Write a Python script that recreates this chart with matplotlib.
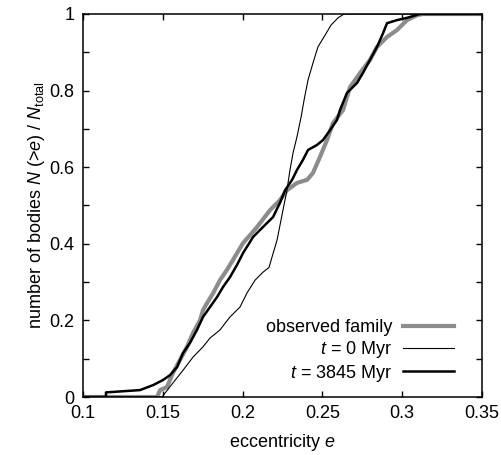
import matplotlib
matplotlib.use("Agg")
import matplotlib.pyplot as plt
from matplotlib.ticker import MultipleLocator

plt.rcParams['font.family'] = ['Liberation Sans', 'DejaVu Sans']
plt.rcParams['mathtext.fontset'] = 'custom'
plt.rcParams['mathtext.rm'] = 'Liberation Sans'
plt.rcParams['mathtext.it'] = 'Liberation Sans:italic'
plt.rcParams['font.size'] = 13

# observed family
obs_e = [0.1, 0.1464, 0.1483, 0.1526, 0.1564, 0.1608, 0.1652, 0.1689, 0.1733, 0.1752,
         0.1777, 0.1814, 0.1858, 0.1902, 0.1940, 0.2003, 0.2091, 0.2172, 0.2234, 0.2278,
         0.2341, 0.2404, 0.2441, 0.2485, 0.2529, 0.2566, 0.2629, 0.2673, 0.2736, 0.2798,
         0.2842, 0.2905, 0.2967, 0.3030, 0.3093, 0.3130, 0.35]
obs_f = [0.0, 0.0, 0.018, 0.026, 0.063, 0.097, 0.131, 0.167, 0.200, 0.227,
         0.245, 0.270, 0.305, 0.332, 0.358, 0.402, 0.444, 0.488, 0.514, 0.540,
         0.559, 0.567, 0.585, 0.627, 0.671, 0.715, 0.749, 0.809, 0.846, 0.880,
         0.914, 0.940, 0.958, 0.984, 0.997, 1.0, 1.0]

# t = 0 Myr
t0_e = [0.1, 0.1495, 0.1564, 0.1627, 0.1689, 0.1752, 0.1796, 0.1858, 0.1921, 0.1984,
        0.2028, 0.2078, 0.2128, 0.2165, 0.2216, 0.2253, 0.2278, 0.2297, 0.2316, 0.2341,
        0.2366, 0.2385, 0.2410, 0.2441, 0.2472, 0.2510, 0.2554, 0.2598, 0.2636, 0.35]
t0_f = [0.0, 0.0, 0.037, 0.070, 0.104, 0.131, 0.154, 0.175, 0.209, 0.235,
        0.272, 0.305, 0.326, 0.338, 0.410, 0.488, 0.540, 0.593, 0.637, 0.680,
        0.730, 0.775, 0.828, 0.872, 0.914, 0.940, 0.971, 0.990, 1.0, 1.0]

# t = 3845 Myr
t1_e = [0.1, 0.1144, 0.1144, 0.1357, 0.1439, 0.1500, 0.1545, 0.1589, 0.1627, 0.1670,
        0.1714, 0.1752, 0.1796, 0.1840, 0.1877, 0.1921, 0.1965, 0.2003, 0.2066, 0.2128,
        0.2191, 0.2234, 0.2266, 0.2310, 0.2341, 0.2378, 0.2410, 0.2466, 0.2504, 0.2548,
        0.2591, 0.2610, 0.2654, 0.2717, 0.2754, 0.2798, 0.2842, 0.2880, 0.2905, 0.2967,
        0.3030, 0.3111, 0.35]
t1_f = [0.0, 0.0, 0.012, 0.018, 0.031, 0.044, 0.057, 0.078, 0.115, 0.141,
        0.175, 0.209, 0.235, 0.261, 0.287, 0.313, 0.345, 0.376, 0.418, 0.444,
        0.470, 0.507, 0.540, 0.567, 0.593, 0.619, 0.645, 0.658, 0.671, 0.697,
        0.723, 0.749, 0.794, 0.820, 0.846, 0.880, 0.914, 0.950, 0.976, 0.984,
        0.990, 1.0, 1.0]

x_ticks = [0.1, 0.15, 0.2, 0.25, 0.3, 0.35]
x_labels = ['0.1', '0.15', '0.2', '0.25', '0.3', '0.35']
y_ticks = [0, 0.2, 0.4, 0.6, 0.8, 1]
y_labels = ['0', '0.2', '0.4', '0.6', '0.8', '1']

fig = plt.figure(figsize=(5.02, 4.55), dpi=100)
ax = fig.add_axes([83/502, 1-397/455, (482-83)/502, (397-14)/455])

ax.plot(obs_e, obs_f, color='#8c8c8c', lw=3.0, label='observed family', zorder=2)
ax.plot(t0_e, t0_f, color='black', lw=0.8, label='$t$ = 0 Myr', zorder=3)
ax.plot(t1_e, t1_f, color='black', lw=1.8, label='$t$ = 3845 Myr', zorder=4)

ax.set_xlim(0.1, 0.35)
ax.set_ylim(0, 1)
ax.set_xticks(x_ticks)
ax.set_xticklabels(x_labels)
ax.set_yticks(y_ticks)
ax.set_yticklabels(y_labels)
ax.yaxis.set_minor_locator(MultipleLocator(0.1))
ax.tick_params(which='both', direction='in', top=True, right=True, length=4, width=1.0)
ax.tick_params(axis='both', which='major', pad=6)
for s in ax.spines.values():
    s.set_linewidth(1.1)

ax.set_xlabel('eccentricity $e$', labelpad=7)
ax.set_ylabel('number of bodies $N$ (>$e$) / $N_{\\rm total}$', labelpad=2)

leg = ax.legend(loc='lower right', bbox_to_anchor=(0.947, 0.016), frameon=False,
                markerfirst=False, handlelength=2.8, labelspacing=0.15,
                borderaxespad=0.0, handletextpad=0.6)

fig.savefig('out.png', dpi=100)
